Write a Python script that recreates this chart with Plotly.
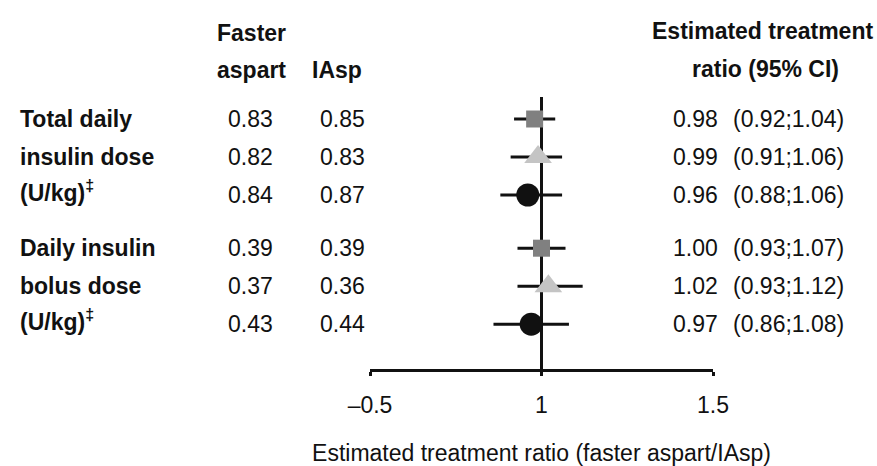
import plotly.graph_objects as go

# ---- data ----
groups = ["Total daily insulin dose", "Daily insulin bolus dose"]
group_label_lines = [["Total daily", "insulin dose", "(U/kg)<sup>‡</sup>"],
                     ["Daily insulin", "bolus dose", "(U/kg)<sup>‡</sup>"]]
faster_aspart = [0.83, 0.82, 0.84, 0.39, 0.37, 0.43]
iasp = [0.85, 0.83, 0.87, 0.39, 0.36, 0.44]
etr = [0.98, 0.99, 0.96, 1.00, 1.02, 0.97]
ci_low = [0.92, 0.91, 0.88, 0.93, 0.93, 0.86]
ci_high = [1.04, 1.06, 1.06, 1.07, 1.12, 1.08]
row_y = [0, 1, 2, 3.4, 4.4, 5.4]
tick_vals = [0.5, 1, 1.5]
tick_text = ["\u20130.5", "1", "1.5"]

FONT = "Liberation Sans, Arial, sans-serif"
FS = 23
W, H = 877, 466
PB = 97  # bottom margin (axis line at y=369px)
PLOT_H = H - PB
PX_PER_ROW = 38.0
ROW0_PX = 119.0


def ypx(px):
    return (px - ROW0_PX) / PX_PER_ROW


styles = [
    dict(symbol="square", color="#808080", size=17),
    dict(symbol="triangle-up", color="#c4c4c4", size=24),
    dict(symbol="circle", color="#111111", size=23),
]

fig = go.Figure()
for k, st in enumerate(styles):
    idx = [k, k + 3]
    fig.add_trace(go.Scatter(
        x=[etr[i] for i in idx],
        y=[row_y[i] for i in idx],
        mode="markers",
        marker=dict(symbol=st["symbol"], color=st["color"], size=st["size"], line=dict(width=0)),
        error_x=dict(type="data", symmetric=False,
                     array=[ci_high[i] - etr[i] for i in idx],
                     arrayminus=[etr[i] - ci_low[i] for i in idx],
                     color="#111111", thickness=3, width=0),
        showlegend=False, hoverinfo="skip", cliponaxis=False,
    ))

# vertical reference line at 1
fig.add_shape(type="line", xref="x", yref="y", x0=1, x1=1,
              y0=ypx(97), y1=ypx(378), line=dict(color="#111111", width=3), layer="below")

ann = []
def add_text(text, xpx, ypix, anchor="center", bold=False, size=FS):
    t = f"<b>{text}</b>" if bold else text
    ann.append(dict(text=t, x=xpx / W, xref="paper", y=ypx(ypix), yref="y",
                    xanchor=anchor, yanchor="middle", showarrow=False,
                    font=dict(family=FONT, size=size, color="#111111")))

# headers
add_text("Faster", 251, 33, bold=True)
add_text("aspart", 251, 70, bold=True)
add_text("IAsp", 337, 70, bold=True)
add_text("Estimated treatment", 762, 31, bold=True)
add_text("ratio (95% CI)", 765, 69, bold=True)

# group labels
label_rows = [[0, 1, 2], [3, 4, 5]]
label_offsets = [0, 0, -4]
for g, lines in enumerate(group_label_lines):
    for j, line in enumerate(lines):
        r = label_rows[g][j]
        ypix = ROW0_PX + row_y[r] * PX_PER_ROW + label_offsets[j]
        ann.append(dict(text=f"<b>{line}</b>", x=18 / W, xref="paper", y=ypx(ypix), yref="y",
                        xanchor="left", yanchor="middle", showarrow=False,
                        font=dict(family=FONT, size=FS, color="#111111")))

for i in range(len(row_y)):
    yy = row_y[i]
    for val, xpx, anchor in [(f"{faster_aspart[i]:.2f}", 250, "center"),
                             (f"{iasp[i]:.2f}", 342, "center"),
                             (f"{etr[i]:.2f}", 695, "center"),
                             (f"({ci_low[i]:.2f};{ci_high[i]:.2f})", 846, "right")]:
        ann.append(dict(text=val, x=xpx / W, xref="paper", y=yy, yref="y",
                        xanchor=anchor, yanchor="middle", showarrow=False,
                        font=dict(family=FONT, size=FS, color="#111111")))

fig.update_layout(
    width=W, height=H,
    margin=dict(l=0, r=0, t=0, b=PB, pad=0, autoexpand=False),
    paper_bgcolor="white", plot_bgcolor="white",
    annotations=ann,
    xaxis=dict(domain=[370 / W, 713 / W], range=[0.5, 1.5],
               tickvals=tick_vals, ticktext=tick_text,
               showline=True, linecolor="#111111", linewidth=3,
               ticks="outside", ticklen=4, tickwidth=3, tickcolor="#111111",
               ticklabelstandoff=9,
               showgrid=False, zeroline=False,
               tickfont=dict(family=FONT, size=FS, color="#111111"),
               title=dict(text="Estimated treatment ratio (faster aspart/IAsp)",
                          font=dict(family=FONT, size=FS, color="#111111"), standoff=30)),
    yaxis=dict(range=[ypx(PLOT_H), ypx(0)], visible=False, showgrid=False, zeroline=False),
)

fig.write_html("out.html")
